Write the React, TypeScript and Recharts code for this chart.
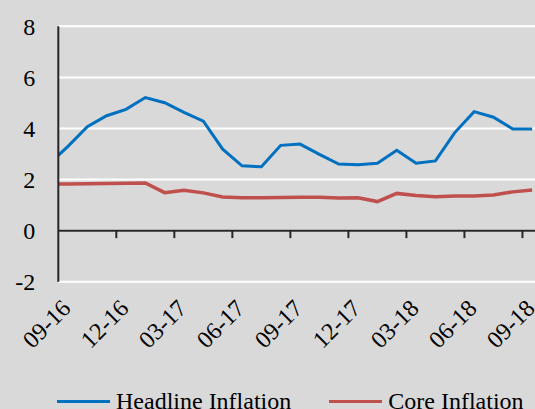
import { LineChart, Line, XAxis, YAxis, CartesianGrid, ReferenceLine, Legend } from "recharts";

// monthly readings, the first one sits just left of the y axis and is clipped
const months = [
  "08-16", "09-16", "10-16", "11-16", "12-16", "01-17", "02-17", "03-17", "04-17",
  "05-17", "06-17", "07-17", "08-17", "09-17", "10-17", "11-17", "12-17", "01-18",
  "02-18", "03-18", "04-18", "05-18", "06-18", "07-18", "08-18", "09-18",
];
const headline = [
  2.6, 3.3, 4.07, 4.5, 4.75, 5.21, 5.01, 4.63, 4.29,
  3.19, 2.54, 2.5, 3.34, 3.39, 2.99, 2.61, 2.58, 2.64,
  3.15, 2.64, 2.73, 3.84, 4.66, 4.44, 3.98, 3.98,
];
const core = [
  1.82, 1.83, 1.84, 1.85, 1.86, 1.87, 1.49, 1.58, 1.48,
  1.32, 1.29, 1.29, 1.3, 1.31, 1.31, 1.28, 1.29, 1.14,
  1.46, 1.38, 1.33, 1.36, 1.36, 1.4, 1.52, 1.59,
];
const seriesNames = ["Headline Inflation", "Core Inflation"];
const xLabels = ["09-16", "12-16", "03-17", "06-17", "09-17", "12-17", "03-18", "06-18", "09-18"];
const yTicks = [-2, 0, 2, 4, 6, 8];

const data = months.map((month, i) => ({
  idx: i - 1,
  month,
  headline: headline[i],
  core: core[i],
}));
const labelTicks = xLabels.map((l) => months.indexOf(l) - 1);
const tickMarks = labelTicks.slice(1).map((t) => t - 0.5);

const FONT = '"Liberation Serif", "Times New Roman", serif';
const AXIS = "#262626";

const renderLegend = (props: any) => {
  const items = [...(props.payload || [])].sort(
    (a: any, b: any) => seriesNames.indexOf(a.value) - seriesNames.indexOf(b.value)
  );
  return (
    <div
      style={{
        display: "flex",
        alignItems: "center",
        paddingLeft: 57,
        fontFamily: FONT,
        fontSize: 24,
        lineHeight: "24px",
        color: "#000",
        whiteSpace: "nowrap",
      }}
    >
      {items.map((entry: any) => (
        <div key={entry.value} style={{ display: "flex", alignItems: "center", marginRight: 38 }}>
          <span style={{ display: "inline-block", width: 53, height: 3, background: entry.color, marginRight: 6 }} />
          <span>{entry.value}</span>
        </div>
      ))}
    </div>
  );
};

export default function App() {
  return (
    <div
      style={{
        position: "absolute",
        left: 0,
        top: 0,
        width: 535,
        height: 409,
        overflow: "hidden",
        background: "#D9D9D9",
      }}
    >
      <LineChart
        width={560}
        height={430}
        data={data}
        margin={{ top: 26.3, right: 18.2, left: 0, bottom: 0 }}
      >
        <CartesianGrid vertical={false} stroke="#ffffff" strokeWidth={2} />
        <XAxis
          dataKey="idx"
          type="number"
          domain={[-0.5, 24.5]}
          allowDataOverflow
          ticks={labelTicks}
          interval={0}
          tickFormatter={(v: number) => months[v + 1]}
          angle={-45}
          textAnchor="end"
          axisLine={false}
          tickLine={false}
          tickSize={0}
          tickMargin={14}
          height={148.2}
          tick={{ fontFamily: FONT, fontSize: 24, fill: "#000", dx: -8, dy: 2 }}
        />
        <YAxis
          domain={[-2, 8]}
          ticks={yTicks}
          interval={0}
          width={58.3}
          axisLine={{ stroke: AXIS, strokeWidth: 2 }}
          tickLine={false}
          tickSize={0}
          tickMargin={23}
          tick={{ fontFamily: FONT, fontSize: 24, fill: "#000" }}
        />
        <ReferenceLine y={0} stroke={AXIS} strokeWidth={2} />
        {tickMarks.map((t) => (
          <ReferenceLine
            key={t}
            segment={[{ x: t, y: 0 }, { x: t, y: -0.29 }]}
            stroke={AXIS}
            strokeWidth={2}
          />
        ))}
        <Line
          type="linear"
          dataKey="headline"
          name={seriesNames[0]}
          stroke="#0070C0"
          strokeWidth={3}
          dot={false}
          isAnimationActive={false}
        />
        <Line
          type="linear"
          dataKey="core"
          name={seriesNames[1]}
          stroke="#C0504D"
          strokeWidth={3.5}
          dot={false}
          isAnimationActive={false}
        />
        <Legend
          layout="horizontal"
          verticalAlign="middle"
          align="center"
          wrapperStyle={{ top: 389, left: 0, width: 560 }}
          content={renderLegend}
        />
      </LineChart>
    </div>
  );
}
